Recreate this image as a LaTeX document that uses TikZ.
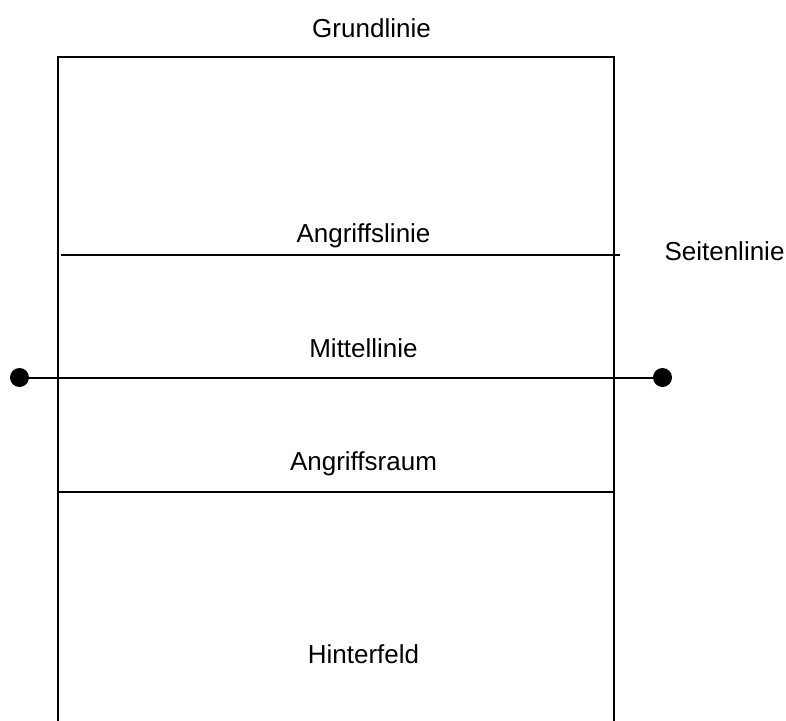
\documentclass[tikz,border=0pt]{standalone}
\usepackage{fontspec}
\setmainfont{Liberation Sans}
\begin{document}
\begin{tikzpicture}[x=1pt,y=-1pt,
  court/.style={line width=2pt, black},
  lbl/.style={font=\fontsize{26}{30}\selectfont, inner sep=0pt, anchor=base},
  postdot/.style={circle, fill=black, minimum size=19pt, inner sep=0pt}]
  \useasboundingbox (0,0) rectangle (786,720);
  % court outline, open at the bottom
  \draw[court] (57.5,725) -- (57.5,56.5) -- (613.5,56.5) -- (613.5,725);
  % attack line
  \coordinate (al1) at (61,255);
  \coordinate (al2) at (620,255);
  \draw[court] (al1) -- (al2);
  % centre line with the net posts
  \node[postdot] (p1) at (19.5,377.5) {};
  \node[postdot] (p2) at (662.5,377.5) {};
  \draw[court] (p1.center) -- (p2.center);
  % end of the attack zone
  \coordinate (ar1) at (57.5,492);
  \coordinate (ar2) at (613.5,492);
  \draw[court] (ar1) -- (ar2);
  % labels
  \node[lbl] (grund) at (371.5,37) {Grundlinie};
  \node[lbl] (angl) at (363.5,242) {Angriffslinie};
  \node[lbl] (seit) at (724.5,260.7) {Seitenlinie};
  \node[lbl] (mitte) at (363.5,357) {Mittellinie};
  \node[lbl] (raum) at (363.5,470) {Angriffsraum};
  \node[lbl] (hinter) at (363.5,663) {Hinterfeld};
\end{tikzpicture}
\end{document}
